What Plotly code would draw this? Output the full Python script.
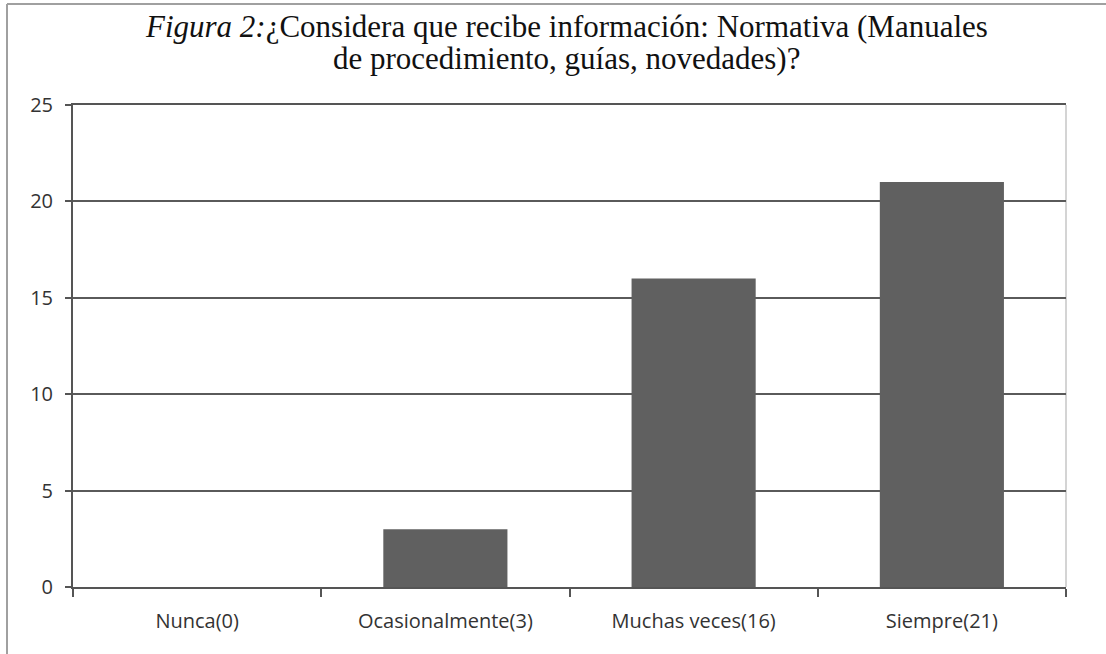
import plotly.graph_objects as go

categories = ["Nunca(0)", "Ocasionalmente(3)", "Muchas veces(16)", "Siempre(21)"]
counts = [0, 3, 16, 21]
y_ticks = [0, 5, 10, 15, 20, 25]

title_lines = [
    "<i>Figura 2:</i>¿Considera que recibe información: Normativa (Manuales",
    "de procedimiento, guías, novedades)?",
]

W, H = 1106, 654
L, R, T, B = 73, 40, 105, 67
PW, PH = W - L - R, H - T - B


def px_x(x):
    return (x - L) / PW


def px_y(y):
    return (H - B - y) / PH


fig = go.Figure(
    go.Bar(
        x=categories,
        y=counts,
        marker=dict(color="#606060", line=dict(width=0)),
        hoverinfo="x+y",
    )
)

annotations = [
    dict(text=line, xref="paper", yref="paper", x=px_x(566), y=px_y(yc),
         xanchor="center", yanchor="middle", showarrow=False,
         font=dict(family="Liberation Serif", size=31, color="#111111"))
    for line, yc in zip(title_lines, [27, 59])
]

fig.update_layout(
    width=W,
    height=H,
    autosize=False,
    margin=dict(l=L, r=R, t=T, b=B),
    paper_bgcolor="white",
    plot_bgcolor="white",
    bargap=0.5,
    showlegend=False,
    annotations=annotations,
    xaxis=dict(
        type="category",
        tickson="boundaries",
        ticks="outside",
        ticklen=8,
        tickwidth=2,
        tickcolor="#555555",
        showline=True,
        mirror=True,
        linecolor="#555555",
        linewidth=2,
        showgrid=False,
        tickfont=dict(family="Open Sans", size=20, color="#333333"),
        ticklabelstandoff=15,
        range=[-0.5, 3.5],
    ),
    yaxis=dict(
        range=[0, 25],
        tickvals=y_ticks,
        ticks="outside",
        ticklen=6,
        tickwidth=2,
        tickcolor="#555555",
        showline=True,
        linecolor="#555555",
        linewidth=2,
        showgrid=True,
        gridcolor="#5a5a5a",
        gridwidth=2,
        zeroline=False,
        tickfont=dict(family="Open Sans", size=20, color="#333333"),
        ticklabelstandoff=8,
    ),
    shapes=[
        # light right edge of the plotting area
        dict(type="line", xref="paper", yref="paper", x0=1, x1=1, y0=0, y1=1,
             line=dict(color="#d4d4d4", width=2), layer="below"),
        # frame around the figure (top and left edges)
        dict(type="line", xref="paper", yref="paper",
             x0=px_x(7), x1=px_x(W), y0=px_y(4), y1=px_y(4),
             line=dict(color="#a0a0a0", width=2)),
        dict(type="line", xref="paper", yref="paper",
             x0=px_x(7), x1=px_x(7), y0=px_y(4), y1=px_y(H),
             line=dict(color="#a0a0a0", width=2)),
    ],
)

fig.write_html("out.html")
